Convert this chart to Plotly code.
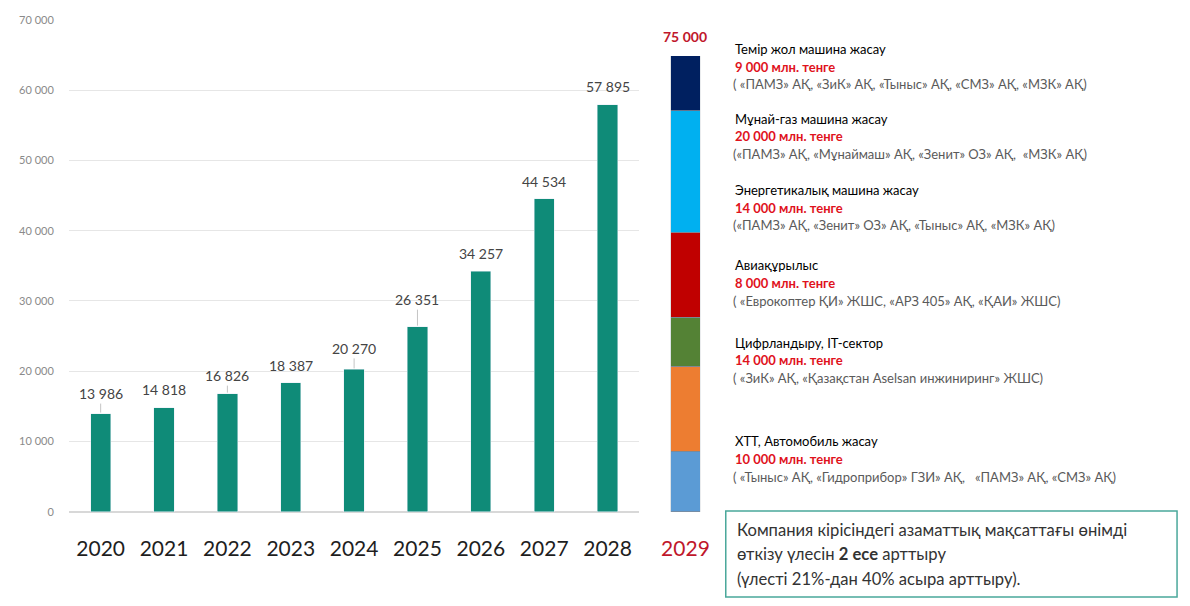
import plotly.graph_objects as go

# Revenue by year
years = ["2020", "2021", "2022", "2023", "2024", "2025", "2026", "2027", "2028"]
revenue = [13986, 14818, 16826, 18387, 20270, 26351, 34257, 44534, 57895]

# 2029 target broken down by sector (stacked bottom -> top)
target_year = "2029"
sector_names = [
    "ХТТ, Автомобиль жасау",
    "Цифрландыру, IT-сектор",
    "Авиақұрылыс",
    "Энергетикалық машина жасау",
    "Мұнай-газ машина жасау",
    "Темір жол машина жасау",
]
sector_values = [10000, 14000, 8000, 14000, 20000, 9000]
sector_companies = [
    "( «Тыныс» АҚ, «Гидроприбор» ГЗИ» АҚ,   «ПАМЗ» АҚ, «СМЗ» АҚ)",
    "( «ЗиК» АҚ, «Қазақстан Aselsan инжиниринг» ЖШС)",
    "( «Еврокоптер ҚИ» ЖШС, «АРЗ 405» АҚ, «ҚАИ» ЖШС)",
    "(«ПАМЗ» АҚ, «Зенит» ОЗ» АҚ, «Тыныс» АҚ, «МЗК» АҚ)",
    "(«ПАМЗ» АҚ, «Мұнаймаш» АҚ, «Зенит» ОЗ» АҚ,  «МЗК» АҚ)",
    "( «ПАМЗ» АҚ, «ЗиК» АҚ, «Тыныс» АҚ, «СМЗ» АҚ, «МЗК» АҚ)",
]
unit = "млн. тенге"

goal_lines = [
    "Компания кірісіндегі азаматтық мақсаттағы өнімді",
    "өткізу үлесін <b>2 есе</b> арттыру",
    "(үлесті 21%-дан 40% асыра арттыру).",
]

# ---- styling ----
W, H = 1190, 606
FONT = "Lato, Roboto, sans-serif"
BAR_COLOR = "#0f8b78"
SECTOR_COLORS = ["#5b9bd5", "#ed7d31", "#548235", "#c00000", "#00b0f0", "#002060"]
RED = "#c0172b"
# title-line centre (px from top) of each sector text block, same order as sectors
block_top_px = [444, 343, 264, 187, 114, 43]
# vertical offset of value labels above bar tops, and which ones get a leader line
label_offset = [20, 18, 18, 17, 21, 27, 18, 17, 18]
leader = [True, False, True, False, True, True, False, False, False]


def px(x):
    return x / W


def py(y):
    return 1 - y / H


def fmt(v):
    return f"{v:,}".replace(",", " ")


fig = go.Figure()

fig.add_trace(go.Bar(
    x=years, y=revenue, marker_color=BAR_COLOR, width=0.32,
    xaxis="x", yaxis="y", hoverinfo="x+y", showlegend=False,
))

for name, val, col in zip(sector_names, sector_values, SECTOR_COLORS):
    fig.add_trace(go.Bar(
        x=[target_year], y=[val], name=name, width=1.0,
        marker=dict(color=col, line=dict(color="#7c8a99", width=0.8)),
        xaxis="x2", yaxis="y2", showlegend=False,
    ))

annotations = []
# category axes are addressed by index so numeric-looking year names are not misread
for i, (v, off, ld) in enumerate(zip(revenue, label_offset, leader)):
    annotations.append(dict(
        x=i, y=v, xref="x", yref="y", text=fmt(v),
        showarrow=True, arrowhead=0, arrowwidth=0.8,
        arrowcolor="#b5b5b5" if ld else "rgba(0,0,0,0)",
        ax=0, ay=-off, standoff=1,
        font=dict(family=FONT, size=14, color="#444444"),
    ))

annotations.append(dict(
    x=0, y=sum(sector_values), xref="x2", yref="y2",
    text=f"<b>{fmt(sum(sector_values))}</b>", showarrow=False, yanchor="middle", yshift=19,
    font=dict(family=FONT, size=14, color=RED),
))

for name, val, comp, ytop in zip(sector_names, sector_values, sector_companies, block_top_px):
    annotations.append(dict(
        x=px(735), y=py(ytop), xref="paper", yref="paper", xanchor="left", yanchor="middle",
        text=name, showarrow=False, font=dict(family=FONT, size=13, color="#000000"),
    ))
    annotations.append(dict(
        x=px(735), y=py(ytop + 18), xref="paper", yref="paper", xanchor="left", yanchor="middle",
        text=f"<b>{fmt(val)} {unit}</b>", showarrow=False, font=dict(family=FONT, size=13, color="#e0121c"),
    ))
    annotations.append(dict(
        x=px(733), y=py(ytop + 36), xref="paper", yref="paper", xanchor="left", yanchor="middle",
        text=comp, showarrow=False, font=dict(family=FONT, size=13, color="#5a5a5a"),
    ))

for i, line in enumerate(goal_lines):
    annotations.append(dict(
        x=px(737), y=py(534 + i * 25.5), xref="paper", yref="paper", xanchor="left", yanchor="middle",
        text=line, showarrow=False, font=dict(family=FONT, size=16.6, color="#333333"),
    ))

fig.update_layout(
    width=W, height=H, autosize=False,
    margin=dict(l=0, r=0, t=0, b=0),
    paper_bgcolor="white", plot_bgcolor="white",
    separators=". ",
    barmode="stack",
    xaxis=dict(
        domain=[px(60), px(640)], anchor="y", type="category",
        range=[-0.5, 8.5], showgrid=False, showline=False, zeroline=False,
        ticks="outside", ticklen=18, tickcolor="rgba(0,0,0,0)",
        tickfont=dict(family=FONT, size=21, color="#1e1e1e"),
    ),
    yaxis=dict(
        domain=[py(516), py(13)], anchor="x", range=[0, 70000], dtick=10000,
        tickformat=",d", showgrid=True, gridcolor="#e6e6e6", gridwidth=1,
        zeroline=True, zerolinecolor="#d8d8d8", showline=False,
        ticks="outside", ticklen=12, tickcolor="rgba(0,0,0,0)",
        tickfont=dict(family=FONT, size=11, color="#8a8a8a"),
    ),
    xaxis2=dict(
        domain=[px(672), px(702)], anchor="y2", type="category",
        range=[-0.5, 0.5], showgrid=False, showline=False, zeroline=False,
        ticks="outside", ticklen=18, tickcolor="rgba(0,0,0,0)",
        tickfont=dict(family=FONT, size=21, color=RED),
    ),
    yaxis2=dict(
        domain=[py(516), py(50)], anchor="x2", range=[0, sum(sector_values)],
        visible=False,
    ),
    shapes=[dict(
        type="rect", xref="paper", yref="paper",
        x0=px(728), x1=px(1187), y0=py(603), y1=py(515),
        line=dict(color="#4aa89b", width=1.5), fillcolor="rgba(0,0,0,0)",
    )],
    annotations=annotations,
)

fig.write_html("out.html")
